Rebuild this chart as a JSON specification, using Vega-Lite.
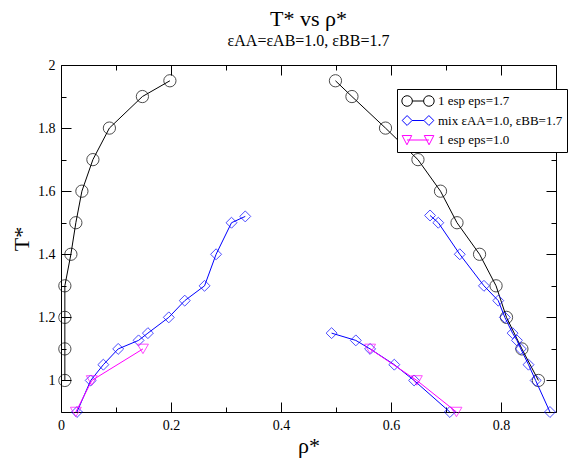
{
  "$schema": "https://vega.github.io/schema/vega-lite/v6.json",
  "width": 495,
  "height": 347,
  "autosize": {"type": "none"},
  "padding": {"left": 61, "top": 65, "right": 18, "bottom": 54},
  "background": "white",
  "title": {
    "text": "T* vs ρ*",
    "subtitle": "εAA=εAB=1.0, εBB=1.7",
    "font": "Liberation Serif",
    "fontSize": 22,
    "fontWeight": "normal",
    "color": "black",
    "subtitleFont": "Liberation Serif",
    "subtitleFontSize": 16,
    "subtitleColor": "black",
    "subtitlePadding": 2,
    "anchor": "middle",
    "offset": 8
  },
  "data": {
    "values": [
      {"series": "1 esp eps=1.7", "seg": "b1", "rho": 0.007, "T": 1.0},
      {"series": "1 esp eps=1.7", "seg": "b1", "rho": 0.007, "T": 1.1},
      {"series": "1 esp eps=1.7", "seg": "b1", "rho": 0.007, "T": 1.2},
      {"series": "1 esp eps=1.7", "seg": "b1", "rho": 0.007, "T": 1.3},
      {"series": "1 esp eps=1.7", "seg": "b1", "rho": 0.018, "T": 1.4},
      {"series": "1 esp eps=1.7", "seg": "b1", "rho": 0.027, "T": 1.5},
      {"series": "1 esp eps=1.7", "seg": "b1", "rho": 0.038, "T": 1.6},
      {"series": "1 esp eps=1.7", "seg": "b1", "rho": 0.058, "T": 1.7},
      {"series": "1 esp eps=1.7", "seg": "b1", "rho": 0.088, "T": 1.8},
      {"series": "1 esp eps=1.7", "seg": "b1", "rho": 0.148, "T": 1.9},
      {"series": "1 esp eps=1.7", "seg": "b1", "rho": 0.198, "T": 1.95},
      {"series": "1 esp eps=1.7", "seg": "b2", "rho": 0.499, "T": 1.95},
      {"series": "1 esp eps=1.7", "seg": "b2", "rho": 0.529, "T": 1.9},
      {"series": "1 esp eps=1.7", "seg": "b2", "rho": 0.59, "T": 1.8},
      {"series": "1 esp eps=1.7", "seg": "b2", "rho": 0.649, "T": 1.7},
      {"series": "1 esp eps=1.7", "seg": "b2", "rho": 0.69, "T": 1.6},
      {"series": "1 esp eps=1.7", "seg": "b2", "rho": 0.72, "T": 1.5},
      {"series": "1 esp eps=1.7", "seg": "b2", "rho": 0.761, "T": 1.4},
      {"series": "1 esp eps=1.7", "seg": "b2", "rho": 0.791, "T": 1.3},
      {"series": "1 esp eps=1.7", "seg": "b2", "rho": 0.81, "T": 1.2},
      {"series": "1 esp eps=1.7", "seg": "b2", "rho": 0.838, "T": 1.1},
      {"series": "1 esp eps=1.7", "seg": "b2", "rho": 0.868, "T": 1.0},
      {"series": "mix εAA=1.0, εBB=1.7", "seg": "m1", "rho": 0.029, "T": 0.9},
      {"series": "mix εAA=1.0, εBB=1.7", "seg": "m1", "rho": 0.054, "T": 1.0},
      {"series": "mix εAA=1.0, εBB=1.7", "seg": "m1", "rho": 0.077, "T": 1.05},
      {"series": "mix εAA=1.0, εBB=1.7", "seg": "m1", "rho": 0.104, "T": 1.1},
      {"series": "mix εAA=1.0, εBB=1.7", "seg": "m1", "rho": 0.141, "T": 1.127},
      {"series": "mix εAA=1.0, εBB=1.7", "seg": "m1", "rho": 0.158, "T": 1.15},
      {"series": "mix εAA=1.0, εBB=1.7", "seg": "m1", "rho": 0.196, "T": 1.2},
      {"series": "mix εAA=1.0, εBB=1.7", "seg": "m1", "rho": 0.225, "T": 1.253},
      {"series": "mix εAA=1.0, εBB=1.7", "seg": "m1", "rho": 0.261, "T": 1.3},
      {"series": "mix εAA=1.0, εBB=1.7", "seg": "m1", "rho": 0.282, "T": 1.4},
      {"series": "mix εAA=1.0, εBB=1.7", "seg": "m1", "rho": 0.31, "T": 1.5},
      {"series": "mix εAA=1.0, εBB=1.7", "seg": "m1", "rho": 0.335, "T": 1.52},
      {"series": "mix εAA=1.0, εBB=1.7", "seg": "m2", "rho": 0.671, "T": 1.523},
      {"series": "mix εAA=1.0, εBB=1.7", "seg": "m2", "rho": 0.686, "T": 1.5},
      {"series": "mix εAA=1.0, εBB=1.7", "seg": "m2", "rho": 0.725, "T": 1.4},
      {"series": "mix εAA=1.0, εBB=1.7", "seg": "m2", "rho": 0.769, "T": 1.3},
      {"series": "mix εAA=1.0, εBB=1.7", "seg": "m2", "rho": 0.795, "T": 1.253},
      {"series": "mix εAA=1.0, εBB=1.7", "seg": "m2", "rho": 0.807, "T": 1.2},
      {"series": "mix εAA=1.0, εBB=1.7", "seg": "m2", "rho": 0.821, "T": 1.15},
      {"series": "mix εAA=1.0, εBB=1.7", "seg": "m2", "rho": 0.829, "T": 1.127},
      {"series": "mix εAA=1.0, εBB=1.7", "seg": "m2", "rho": 0.836, "T": 1.1},
      {"series": "mix εAA=1.0, εBB=1.7", "seg": "m2", "rho": 0.85, "T": 1.05},
      {"series": "mix εAA=1.0, εBB=1.7", "seg": "m2", "rho": 0.863, "T": 1.0},
      {"series": "mix εAA=1.0, εBB=1.7", "seg": "m2", "rho": 0.889, "T": 0.9},
      {"series": "mix εAA=1.0, εBB=1.7", "seg": "m3", "rho": 0.492, "T": 1.15},
      {"series": "mix εAA=1.0, εBB=1.7", "seg": "m3", "rho": 0.536, "T": 1.127},
      {"series": "mix εAA=1.0, εBB=1.7", "seg": "m3", "rho": 0.562, "T": 1.1},
      {"series": "mix εAA=1.0, εBB=1.7", "seg": "m3", "rho": 0.606, "T": 1.05},
      {"series": "mix εAA=1.0, εBB=1.7", "seg": "m3", "rho": 0.642, "T": 1.0},
      {"series": "mix εAA=1.0, εBB=1.7", "seg": "m3", "rho": 0.707, "T": 0.9},
      {"series": "1 esp eps=1.0", "seg": "p1", "rho": 0.027, "T": 0.9},
      {"series": "1 esp eps=1.0", "seg": "p1", "rho": 0.056, "T": 1.0},
      {"series": "1 esp eps=1.0", "seg": "p1", "rho": 0.149, "T": 1.1},
      {"series": "1 esp eps=1.0", "seg": "p2", "rho": 0.562, "T": 1.1},
      {"series": "1 esp eps=1.0", "seg": "p2", "rho": 0.647, "T": 1.0},
      {"series": "1 esp eps=1.0", "seg": "p2", "rho": 0.719, "T": 0.9}
    ]
  },
  "resolve": {"axis": {"x": "independent", "y": "independent"}},
  "layer": [
    {
      "transform": [{"filter": "datum.series == '1 esp eps=1.7'"}],
      "mark": {"type": "line", "color": "black", "strokeWidth": 1},
      "encoding": {
        "x": {
          "field": "rho", "type": "quantitative",
          "scale": {"domain": [0, 0.9], "nice": false, "zero": false},
          "axis": {
            "orient": "bottom",
            "values": [0, 0.1, 0.2, 0.3, 0.4, 0.5, 0.6, 0.7, 0.8, 0.9],
            "labelExpr": "round(datum.value*10)%2==0 ? format(datum.value,'~g') : ''",
            "tickSize": {"condition": {"test": "round(datum.value*10)%2==0", "value": -10}, "value": -5},
            "labelPadding": 16,
            "labelFlush": false,
            "grid": false,
            "domainColor": "black",
            "tickColor": "black",
            "labelColor": "black",
            "labelFont": "Liberation Serif",
            "labelFontSize": 14,
            "title": "ρ*",
            "titleFont": "Liberation Serif",
            "titleFontSize": 22,
            "titleFontWeight": "normal",
            "titleColor": "black",
            "titlePadding": 3
          }
        },
        "y": {
          "field": "T", "type": "quantitative",
          "scale": {"domain": [0.9, 2], "nice": false, "zero": false},
          "axis": {
            "orient": "left",
            "values": [1, 1.1, 1.2, 1.3, 1.4, 1.5, 1.6, 1.7, 1.8, 1.9, 2],
            "labelExpr": "round(datum.value*10)%2==0 ? format(datum.value,'~g') : ''",
            "tickSize": {"condition": {"test": "round(datum.value*10)%2==0", "value": -10}, "value": -5},
            "labelPadding": 16,
            "labelFlush": false,
            "grid": false,
            "domainColor": "black",
            "tickColor": "black",
            "labelColor": "black",
            "labelFont": "Liberation Serif",
            "labelFontSize": 14,
            "title": "T*",
            "titleFont": "Liberation Serif",
            "titleFontSize": 22,
            "titleFontWeight": "normal",
            "titleColor": "black",
            "titlePadding": 4
          }
        },
        "detail": {"field": "seg"}
      }
    },
    {
      "transform": [{"filter": "datum.series == '1 esp eps=1.7'"}],
      "mark": {"type": "point", "shape": "circle", "filled": false, "color": "black", "size": 150, "strokeWidth": 1},
      "encoding": {
        "x": {"field": "rho", "type": "quantitative", "scale": {"domain": [0, 0.9], "nice": false, "zero": false}, "axis": null},
        "y": {"field": "T", "type": "quantitative", "scale": {"domain": [0.9, 2], "nice": false, "zero": false}, "axis": null}
      }
    },
    {
      "transform": [{"filter": "datum.series == 'mix εAA=1.0, εBB=1.7'"}],
      "mark": {"type": "line", "color": "#0000ff", "strokeWidth": 1},
      "encoding": {
        "x": {"field": "rho", "type": "quantitative", "scale": {"domain": [0, 0.9], "nice": false, "zero": false}, "axis": null},
        "y": {"field": "T", "type": "quantitative", "scale": {"domain": [0.9, 2], "nice": false, "zero": false}, "axis": null},
        "detail": {"field": "seg"}
      }
    },
    {
      "transform": [{"filter": "datum.series == 'mix εAA=1.0, εBB=1.7'"}],
      "mark": {"type": "point", "shape": "diamond", "filled": false, "color": "#0000ff", "size": 120, "strokeWidth": 1},
      "encoding": {
        "x": {"field": "rho", "type": "quantitative", "scale": {"domain": [0, 0.9], "nice": false, "zero": false}, "axis": null},
        "y": {"field": "T", "type": "quantitative", "scale": {"domain": [0.9, 2], "nice": false, "zero": false}, "axis": null}
      }
    },
    {
      "transform": [{"filter": "datum.series == '1 esp eps=1.0'"}],
      "mark": {"type": "line", "color": "#ff00ff", "strokeWidth": 1},
      "encoding": {
        "x": {"field": "rho", "type": "quantitative", "scale": {"domain": [0, 0.9], "nice": false, "zero": false}, "axis": null},
        "y": {"field": "T", "type": "quantitative", "scale": {"domain": [0.9, 2], "nice": false, "zero": false}, "axis": null},
        "detail": {"field": "seg"}
      }
    },
    {
      "transform": [{"filter": "datum.series == '1 esp eps=1.0'"}],
      "mark": {"type": "point", "shape": "triangle-down", "filled": false, "color": "#ff00ff", "size": 120, "strokeWidth": 1},
      "encoding": {
        "x": {"field": "rho", "type": "quantitative", "scale": {"domain": [0, 0.9], "nice": false, "zero": false}, "axis": null},
        "y": {"field": "T", "type": "quantitative", "scale": {"domain": [0.9, 2], "nice": false, "zero": false}, "axis": null}
      }
    },
    {
      "mark": {"type": "point", "filled": false, "opacity": 0},
      "encoding": {
        "x": {
          "field": "rho", "type": "quantitative",
          "scale": {"domain": [0, 0.9], "nice": false, "zero": false},
          "axis": {
            "orient": "top",
            "values": [0, 0.1, 0.2, 0.3, 0.4, 0.5, 0.6, 0.7, 0.8, 0.9],
            "labels": false,
            "tickSize": {"condition": {"test": "round(datum.value*10)%2==0", "value": -10}, "value": -5},
            "grid": false,
            "domainColor": "black",
            "tickColor": "black",
            "title": null
          }
        },
        "y": {
          "field": "T", "type": "quantitative",
          "scale": {"domain": [0.9, 2], "nice": false, "zero": false},
          "axis": {
            "orient": "right",
            "values": [1, 1.1, 1.2, 1.3, 1.4, 1.5, 1.6, 1.7, 1.8, 1.9, 2],
            "labels": false,
            "tickSize": {"condition": {"test": "round(datum.value*10)%2==0", "value": -10}, "value": -5},
            "grid": false,
            "domainColor": "black",
            "tickColor": "black",
            "title": null
          }
        },
        "color": {
          "field": "series", "type": "nominal",
          "scale": {
            "domain": ["1 esp eps=1.7", "mix εAA=1.0, εBB=1.7", "1 esp eps=1.0"],
            "range": ["#000000", "#0000ff", "#ff00ff"]
          }
        },
        "shape": {
          "field": "series", "type": "nominal",
          "scale": {
            "domain": ["1 esp eps=1.7", "mix εAA=1.0, εBB=1.7", "1 esp eps=1.0"],
            "range": [
              "M-0.34,0A0.32,0.32 0 1,1 -0.98,0A0.32,0.32 0 1,1 -0.34,0M-0.34,0L0.34,0M0.98,0A0.32,0.32 0 1,1 0.34,0A0.32,0.32 0 1,1 0.98,0",
              "M-0.66,-0.3L-0.36,0L-0.66,0.3L-0.96,0ZM-0.36,0L0.36,0M0.66,-0.3L0.96,0L0.66,0.3L0.36,0Z",
              "M-0.96,-0.27L-0.38,-0.27L-0.67,0.29ZM-0.67,0L0.67,0M0.38,-0.27L0.96,-0.27L0.67,0.29Z"
            ]
          }
        }
      }
    }
  ],
  "config": {
    "view": {"stroke": null},
    "legend": {
      "orient": "none",
      "legendX": 336,
      "legendY": 24,
      "title": null,
      "fillColor": "white",
      "strokeColor": "black",
      "padding": 4,
      "labelFont": "Liberation Serif",
      "labelFontSize": 13,
      "labelColor": "black",
      "labelLimit": 0,
      "labelOffset": 3,
      "symbolSize": 1089,
      "symbolStrokeWidth": 1,
      "symbolOpacity": 1,
      "clipHeight": 16,
      "rowPadding": 3.5
    }
  }
}
